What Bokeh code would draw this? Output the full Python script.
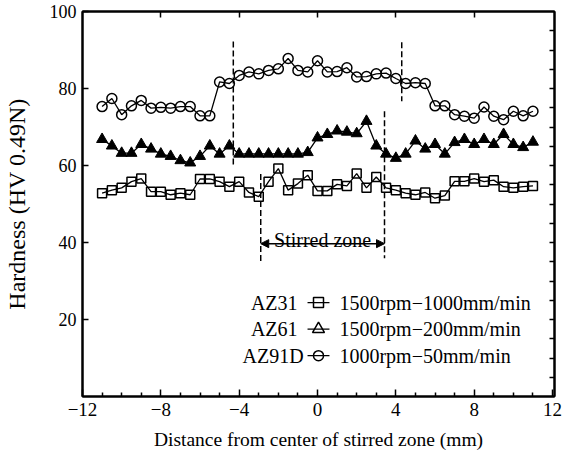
from bokeh.plotting import figure
from bokeh.models import Range1d, FixedTicker, LinearAxis, Arrow, NormalHead
from bokeh.core.properties import value
from bokeh.embed import file_html
from bokeh.resources import INLINE

# ---- data ----
distance = [-11, -10.5, -10, -9.5, -9, -8.5, -8, -7.5, -7, -6.5, -6, -5.5, -5, -4.5, -4,
            -3.5, -3, -2.5, -2, -1.5, -1, -0.5, 0, 0.5, 1, 1.5, 2, 2.5, 3, 3.5, 4,
            4.5, 5, 5.5, 6, 6.5, 7, 7.5, 8, 8.5, 9, 9.5, 10, 10.5, 11]

az31 = [52.8, 53.6, 54.2, 55.8, 56.6, 53.2, 53.2, 52.4, 52.8, 52.4, 56.5, 56.5, 55.8, 54.5, 55.8,
        53.0, 51.9, 55.8, 59.2, 53.6, 55.3, 57.5, 53.4, 53.4, 55.1, 54.7, 57.9, 54.2, 57.0, 54.2, 53.6,
        52.8, 52.4, 53.0, 51.5, 52.2, 55.9, 55.9, 56.6, 55.8, 56.2, 54.5, 54.2, 54.5, 54.7]

az61 = [66.8, 65.1, 63.2, 63.2, 65.5, 64.3, 63.0, 62.4, 61.3, 60.7, 62.4, 65.1, 63.0, 65.1, 63.0,
        63.0, 63.0, 63.0, 63.0, 63.0, 63.0, 63.4, 67.2, 68.1, 69.0, 68.7, 68.3, 71.5, 65.1, 63.0, 61.9,
        63.0, 66.4, 64.3, 65.5, 63.0, 66.0, 66.8, 65.5, 66.8, 65.5, 68.1, 65.5, 64.7, 66.1]

az91d = [75.3, 77.4, 73.2, 75.5, 76.9, 74.9, 75.1, 74.9, 75.3, 75.3, 72.9, 72.9, 81.7, 81.3, 83.4,
         84.3, 83.8, 84.7, 85.1, 87.8, 84.7, 84.3, 87.2, 84.3, 84.4, 85.4, 83.0, 83.1, 83.8, 84.0, 82.6,
         81.3, 81.5, 81.3, 75.5, 75.5, 73.2, 72.8, 72.3, 75.2, 72.8, 71.9, 74.1, 72.9, 74.1]

x_ticks = [-12, -8, -4, 0, 4, 8, 12]
x_tick_labels = ["\u221212", "\u22128", "\u22124", "0", "4", "8", "12"]
x_minor = [-11, -10, -9, -7, -6, -5, -3, -2, -1, 1, 2, 3, 5, 6, 7, 9, 10, 11]
y_ticks = [20, 40, 60, 80, 100]
y_right_ticks = [5, 10, 15, 20, 25, 30, 35, 40, 45, 50, 55, 60, 65, 70, 75, 80, 85, 90, 95]

# zone boundary markers (x, y_start, y_end)
zone_x = [-4.3, -2.9, 4.3, 3.42]
zone_y0 = [92.2, 57.8, 92.0, 74.1]
zone_y1 = [60.1, 34.8, 76.7, 35.9]
stirred_from, stirred_to, stirred_y = -2.9, 3.42, 39.7

legend_alloys = ["AZ31", "AZ61", "AZ91D"]
legend_conditions = ["1500rpm\u22121000mm/min", "1500rpm\u2212200mm/min", "1000rpm\u221250mm/min"]
legend_rows = [24.4, 17.5, 10.6]
legend_alloy_x = [-1.02, -1.02, -0.71]

SERIF = "Liberation Serif"

p = figure(frame_width=472, frame_height=385,
           x_range=Range1d(-12, 12.1), y_range=Range1d(0, 100),
           output_backend="svg", toolbar_location=None,
           min_border_left=81, min_border_right=17, min_border_top=11, min_border_bottom=60,
           background_fill_color="white", border_fill_color="white")
p.grid.visible = False
p.outline_line_color = "black"
p.outline_line_width = 2

# bottom axis
xa = p.xaxis[0]
xa.ticker = FixedTicker(ticks=x_ticks, minor_ticks=x_minor)
xa.major_label_overrides = {t: l for t, l in zip(x_ticks, x_tick_labels)}
xa.major_tick_in = 7
xa.major_tick_out = 0
xa.minor_tick_in = 4
xa.minor_tick_out = 0
xa.axis_line_width = 2
xa.major_tick_line_width = 1.5
xa.minor_tick_line_width = 1.5
xa.major_label_standoff = 6
xa.major_label_text_font = SERIF
xa.major_label_text_font_size = "19px"
xa.major_label_text_color = "black"
xa.axis_label = "Distance from center of stirred zone (mm)"
xa.axis_label_text_font = SERIF
xa.axis_label_text_font_style = "normal"
xa.axis_label_text_font_size = "19.5px"
xa.axis_label_text_color = "black"
xa.axis_label_standoff = 10

# left axis
ya = p.yaxis[0]
ya.ticker = FixedTicker(ticks=y_ticks, minor_ticks=[])
ya.major_tick_in = 6
ya.major_tick_out = 0
ya.minor_tick_in = 0
ya.minor_tick_out = 0
ya.axis_line_width = 2
ya.major_tick_line_width = 1.5
ya.major_label_standoff = 6
ya.major_label_text_font = SERIF
ya.major_label_text_font_size = "18px"
ya.major_label_text_color = "black"
ya.axis_label = "Hardness (HV 0.49N)"
ya.axis_label_text_font = SERIF
ya.axis_label_text_font_style = "normal"
ya.axis_label_text_font_size = "24px"
ya.axis_label_text_color = "black"
ya.axis_label_standoff = 17

# top axis (ticks only)
top_ticks = x_ticks[1:-1]
top = LinearAxis(ticker=FixedTicker(ticks=top_ticks, minor_ticks=[]),
                 major_tick_in=6, major_tick_out=0, minor_tick_in=0, minor_tick_out=0,
                 major_label_overrides={t: "" for t in top_ticks}, major_label_standoff=0,
                 axis_line_width=2, major_tick_line_width=1.5)
p.add_layout(top, "above")

# right axis (ticks only)
right = LinearAxis(ticker=FixedTicker(ticks=y_right_ticks, minor_ticks=[]),
                   major_tick_in=5, major_tick_out=0, minor_tick_in=0, minor_tick_out=0,
                   major_label_overrides={t: "" for t in y_right_ticks}, major_label_standoff=0,
                   axis_line_width=2, major_tick_line_width=1.5)
p.add_layout(right, "right")

# series
p.line(distance, az91d, line_color="black", line_width=1.3)
p.scatter(distance, az91d, marker="circle", size=10, line_color="black", line_width=1.5,
          fill_alpha=0)
p.line(distance, az61, line_color="black", line_width=1.3)
p.scatter(distance, az61, marker="triangle", size=11, line_color="black", fill_color="black",
          line_width=1)
p.line(distance, az31, line_color="black", line_width=1.3)
p.scatter(distance, az31, marker="square", size=9, line_color="black", line_width=1.5,
          fill_alpha=0)

# stirred zone boundaries
p.segment(x0=zone_x, y0=zone_y0, x1=zone_x, y1=zone_y1, line_color="black",
          line_width=1.5, line_dash="6 3")
p.add_layout(Arrow(x_start=stirred_from, y_start=stirred_y, x_end=stirred_to, y_end=stirred_y,
                   line_width=1.5, line_color="black",
                   start=NormalHead(size=8, fill_color="black", line_color="black"),
                   end=NormalHead(size=8, fill_color="black", line_color="black")))
p.text(x=[(stirred_from + stirred_to) / 2], y=[stirred_y + 1.0], text=["Stirred zone"],
       text_align="center", text_baseline="alphabetic", text_font=value(SERIF),
       text_font_size="20px", text_color="black")

# legend (drawn as in the original: alloy, symbol, condition)
for i, m in enumerate(["square", "triangle", "circle"]):
    yy = legend_rows[i]
    p.segment(x0=[-0.51], y0=[yy], x1=[0.61], y1=[yy], line_color="black", line_width=1.3)
    p.scatter([0.05], [yy], marker=m, size=12 if m == "triangle" else 10,
              line_color="black", fill_alpha=0, line_width=1.5)
p.text(x=legend_alloy_x, y=legend_rows, text=legend_alloys, text_align="right",
       text_baseline="middle", text_font=value(SERIF), text_font_size="20px",
       text_color="black")
p.text(x=[1.12, 1.12, 1.12], y=legend_rows, text=legend_conditions, text_align="left",
       text_baseline="middle", text_font=value(SERIF), text_font_size="20px",
       text_color="black")

open("out.html", "w").write(file_html(p, INLINE))
